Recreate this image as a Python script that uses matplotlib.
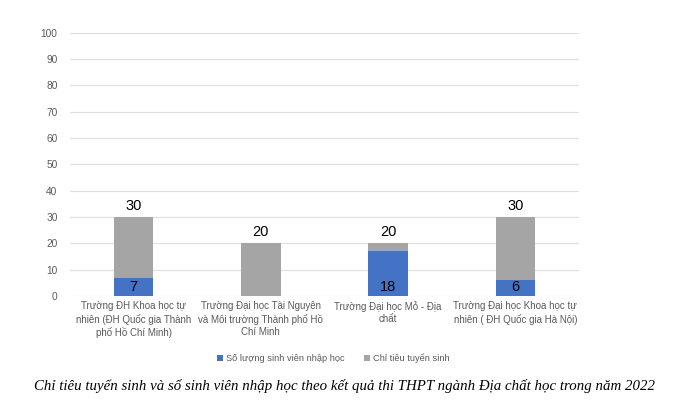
import matplotlib.pyplot as plt
import numpy as np

# Dữ liệu biểu đồ
categories = [
    "Trường ĐH Khoa học tự\nnhiên (ĐH Quốc gia Thành\nphố Hồ Chí Minh)",
    "Trường Đại học Tài Nguyên\nvà Môi trường Thành phố Hồ\nChí Minh",
    "Trường Đại học Mỏ - Địa\nchất",
    "Trường Đại học Khoa học tự\nnhiên ( ĐH Quốc gia Hà Nội)",
]
chi_tieu = [30, 20, 20, 30]
nhap_hoc = [7, 0, 17, 6]
nhap_hoc_labels = ["7", "", "18", "6"]
y_ticks = list(range(0, 101, 10))

blue = "#4472c4"
gray = "#a5a5a5"

fig = plt.figure(figsize=(7, 4.11), dpi=100)
ax = fig.add_axes([0.1, 0.28, 0.727, 0.64])

x = np.arange(len(categories))
w = 0.31
ax.bar(x, chi_tieu, width=w, color=gray, zorder=2, label="Chỉ tiêu tuyển sinh")
ax.bar(x, nhap_hoc, width=w, color=blue, zorder=3, label="Số lượng sinh viên nhập học")

for i in range(len(x)):
    ax.text(x[i], chi_tieu[i] + 1.5, str(chi_tieu[i]), ha="center", va="bottom",
            fontsize=10.5, color="black", family="Liberation Sans")
    if nhap_hoc_labels[i]:
        ax.text(x[i], 0.6, nhap_hoc_labels[i], ha="center", va="bottom",
                fontsize=10.5, color="black", family="Liberation Sans", zorder=4)

ax.set_xlim(-0.5, 3.5)
ax.set_ylim(0, 100)
ax.set_yticks(y_ticks)
ax.set_xticks(x)
ax.set_xticklabels(categories, fontsize=7.0, color="#595959", linespacing=1.25,
                   family="Liberation Sans")
for t in ax.get_yticklabels():
    t.set_family("Liberation Sans")
ax.tick_params(axis="y", labelsize=7.3, labelcolor="#595959", length=0, pad=9)
ax.tick_params(axis="x", length=0, pad=4)
ax.grid(axis="y", color="#e0e0e0", linewidth=0.9, zorder=0)
for s in ax.spines.values():
    s.set_visible(False)

handles, labels = ax.get_legend_handles_labels()
fig.legend(handles[::-1], labels[::-1], loc="center", bbox_to_anchor=(0.476, 0.128),
           ncol=2, frameon=False, handlelength=0.7, handleheight=0.7,
           handletextpad=0.3, columnspacing=2.0, labelcolor="#595959",
           prop={"family": "Liberation Sans", "size": 6.7})

fig.text(0.048, 0.06,
         "Chỉ tiêu tuyển sinh và số sinh viên nhập học theo kết quả thi THPT ngành Địa chất học trong năm 2022",
         ha="left", va="center", fontsize=10.7, style="italic", family="Liberation Serif")

fig.savefig("out.png", dpi=100)
